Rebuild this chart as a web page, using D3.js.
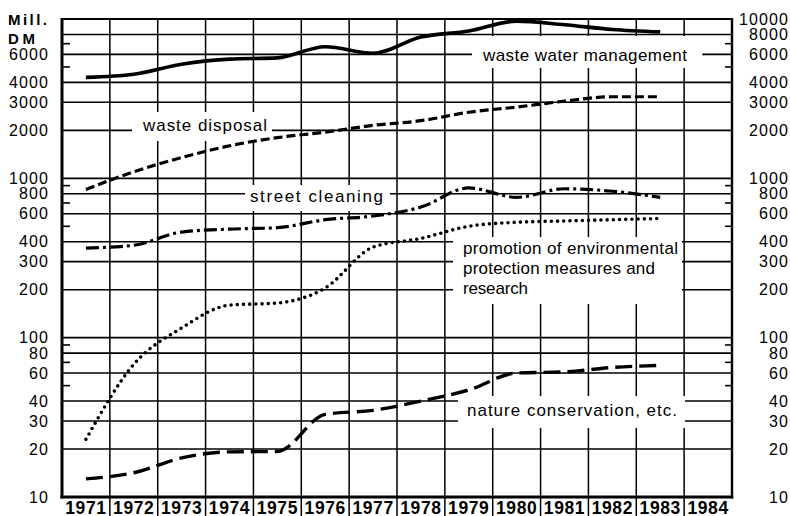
<!DOCTYPE html>
<html>
<head>
<meta charset="utf-8">
<script src="https://cdn.jsdelivr.net/npm/d3@7"></script>
<style>
  html, body { margin: 0; padding: 0; background: #fff; }
  svg { display: block; font-family: "Liberation Sans", Arial, Helvetica, sans-serif; }
</style>
</head>
<body>
<svg id="chart" width="790" height="516"></svg>
<script>
// values (Mill. DM)
const years = [1971, 1972, 1973, 1974, 1975, 1976, 1977, 1978, 1979, 1980, 1981, 1982, 1983, 1984];
const dataYears = [1971, 1972, 1973, 1974, 1975, 1976, 1977, 1978, 1979, 1980, 1981, 1982, 1983];
const wasteWater = [4300, 4500, 5200, 5600, 5700, 6700, 6100, 7700, 8400, 9700, 9200, 8600, 8300];
const wasteDisposal = [850, 1100, 1350, 1600, 1800, 1950, 2150, 2300, 2600, 2800, 3050, 3250, 3250];
const streetCleaning = [365, 380, 460, 480, 490, 550, 580, 660, 870, 760, 860, 830, 760];
const promotion = [23, 68, 115, 160, 165, 205, 370, 420, 500, 530, 540, 550, 560];
const nature = [13, 14.2, 17.6, 19.2, 19.3, 33, 35, 40, 47, 60, 61, 65, 67];

const yTicks = [10, 20, 30, 40, 60, 80, 100, 200, 300, 400, 600, 800, 1000, 2000, 3000, 4000, 6000, 8000, 10000];
const yTicksLeft = [10, 20, 30, 40, 60, 80, 100, 200, 300, 400, 600, 800, 1000, 2000, 3000, 4000, 6000];
const yMinor = [50, 70, 90, 500, 700, 900, 5000, 7000];

const svg = d3.select('#chart');
const mLeft = 62, mRight = 732, mTop = 19, mBottom = 497;

const x = d3.scaleBand().domain(years).range([mLeft, mRight]).padding(0);
const y = d3.scaleLog().domain([10, 10000]).range([mBottom, mTop]);
const cx = d => x(d) + x.bandwidth() / 2;

// grid
const grid = svg.append('g').attr('stroke', '#000');
grid.selectAll('line.h')
    .data(yTicks.filter(d => d > 10))
    .join('line')
    .attr('x1', mLeft).attr('x2', mRight)
    .attr('y1', d => y(d)).attr('y2', d => y(d))
    .attr('stroke-width', d => d === 10000 ? 2.2 : 1.6);
grid.selectAll('line.v')
    .data(years.slice(1))
    .join('line')
    .attr('x1', d => x(d)).attr('x2', d => x(d))
    .attr('y1', mTop).attr('y2', 516)
    .attr('stroke-width', 1.5);

// minor ticks on both sides
grid.selectAll('line.ml')
    .data(yMinor)
    .join('line')
    .attr('x1', mLeft).attr('x2', mLeft + 8)
    .attr('y1', d => y(d)).attr('y2', d => y(d))
    .attr('stroke-width', 1.6);
grid.selectAll('line.mr')
    .data(yMinor)
    .join('line')
    .attr('x1', mRight - 7).attr('x2', mRight)
    .attr('y1', d => y(d)).attr('y2', d => y(d))
    .attr('stroke-width', 1.6);

// label boxes (white) and text
const labels = [
    { lines: ['waste water management'], x: 483, y: 61, w: [204], pad: [10, 15, 3, 10] },
    { lines: ['waste disposal'], x: 143, y: 131, w: [124], pad: [4, 5, 6, 10] },
    { lines: ['street cleaning'], x: 250, y: 202, w: [133], pad: [2, 7, 5, 5] },
    { lines: ['promotion of environmental', 'protection measures and', 'research'], x: 463, y: 254, w: [215, 192, 65], pad: [2, 4, 6, 10] },
    { lines: ['nature conservation, etc.'], x: 467, y: 416, w: [210], pad: [5, 8, 8, 9] }
];

const boxG = svg.append('g');
const textG = svg.append('g');
labels.forEach(l => {
    const t = textG.append('text')
        .attr('font-size', 17)
        .attr('fill', '#000');
    l.lines.forEach((s, i) => {
        t.append('tspan')
            .attr('x', l.x)
            .attr('y', l.y + i * 20)
            .attr('textLength', l.w[i])
            .attr('lengthAdjust', 'spacing')
            .text(s);
    });
    const bb = t.node().getBBox();
    boxG.append('rect')
        .attr('x', bb.x - l.pad[3])
        .attr('y', bb.y - l.pad[0])
        .attr('width', bb.width + l.pad[1] + l.pad[3])
        .attr('height', bb.height + l.pad[0] + l.pad[2])
        .attr('fill', '#fff');
});

// axes frame
const frame = svg.append('g').attr('stroke', '#000').attr('fill', 'none');
frame.append('line').attr('x1', mLeft).attr('x2', mLeft).attr('y1', mTop - 1).attr('y2', mBottom + 1.5).attr('stroke-width', 3);
frame.append('line').attr('x1', mRight).attr('x2', mRight).attr('y1', mTop - 1).attr('y2', mBottom + 1.5).attr('stroke-width', 2.4);
frame.append('line').attr('x1', mLeft - 1.5).attr('x2', mRight + 1.2).attr('y1', mBottom).attr('y2', mBottom).attr('stroke-width', 3);

// series
const line = d3.line()
    .x((d, i) => cx(dataYears[i]))
    .y(d => y(d))
    .curve(d3.curveMonotoneX);

const series = [
    { values: wasteWater, dash: null, width: 3.6, cap: 'butt' },
    { values: wasteDisposal, dash: '9,4', width: 3.2, cap: 'butt' },
    { values: streetCleaning, dash: '13,4,3,4', width: 3.2, cap: 'butt' },
    { values: promotion, dash: '0,6.2', width: 3.6, cap: 'round' },
    { values: nature, dash: '17,7', width: 3.4, cap: 'butt' }
];
svg.append('g').selectAll('path')
    .data(series)
    .join('path')
    .attr('d', d => line(d.values))
    .attr('fill', 'none')
    .attr('stroke', '#000')
    .attr('stroke-width', d => d.width)
    .attr('stroke-linecap', d => d.cap)
    .attr('stroke-dasharray', d => d.dash);

textG.raise();

// tick labels
const fmt = d3.format('d');
const yl = svg.append('g')
    .attr('transform', `translate(${mLeft},0)`)
    .call(d3.axisLeft(y).tickValues(yTicksLeft).tickFormat(fmt).tickSize(0).tickPadding(13));
const yr = svg.append('g')
    .attr('transform', `translate(${mRight},0)`)
    .call(d3.axisRight(y).tickValues(yTicks).tickFormat(fmt).tickSize(0).tickPadding(0));
yr.selectAll('text').attr('x', 57).attr('text-anchor', 'end');
const xa = svg.append('g')
    .attr('transform', `translate(0,${mBottom})`)
    .call(d3.axisBottom(x).tickSize(0).tickPadding(4));
[yl, yr, xa].forEach(g => {
    g.select('.domain').remove();
    g.selectAll('text')
        .attr('font-family', '"Liberation Sans", Arial, Helvetica, sans-serif')
        .attr('font-size', 16)
        .attr('letter-spacing', 1.1)
        .attr('fill', '#000');
});
xa.selectAll('text')
    .attr('font-size', 17.5)
    .attr('font-weight', 'bold')
    .attr('letter-spacing', 0.6)
    .attr('y', 0).attr('dy', 0)
    .attr('transform', 'translate(0,16.5)');

// unit label
const unit = svg.append('text')
    .attr('font-size', 15)
    .attr('font-weight', 'bold')
    .attr('fill', '#000');
unit.append('tspan').attr('x', 8).attr('y', 25).attr('textLength', 39).attr('lengthAdjust', 'spacing').text('Mill.');
unit.append('tspan').attr('x', 8).attr('y', 44).attr('textLength', 27).attr('lengthAdjust', 'spacing').text('DM');
</script>
</body>
</html>
